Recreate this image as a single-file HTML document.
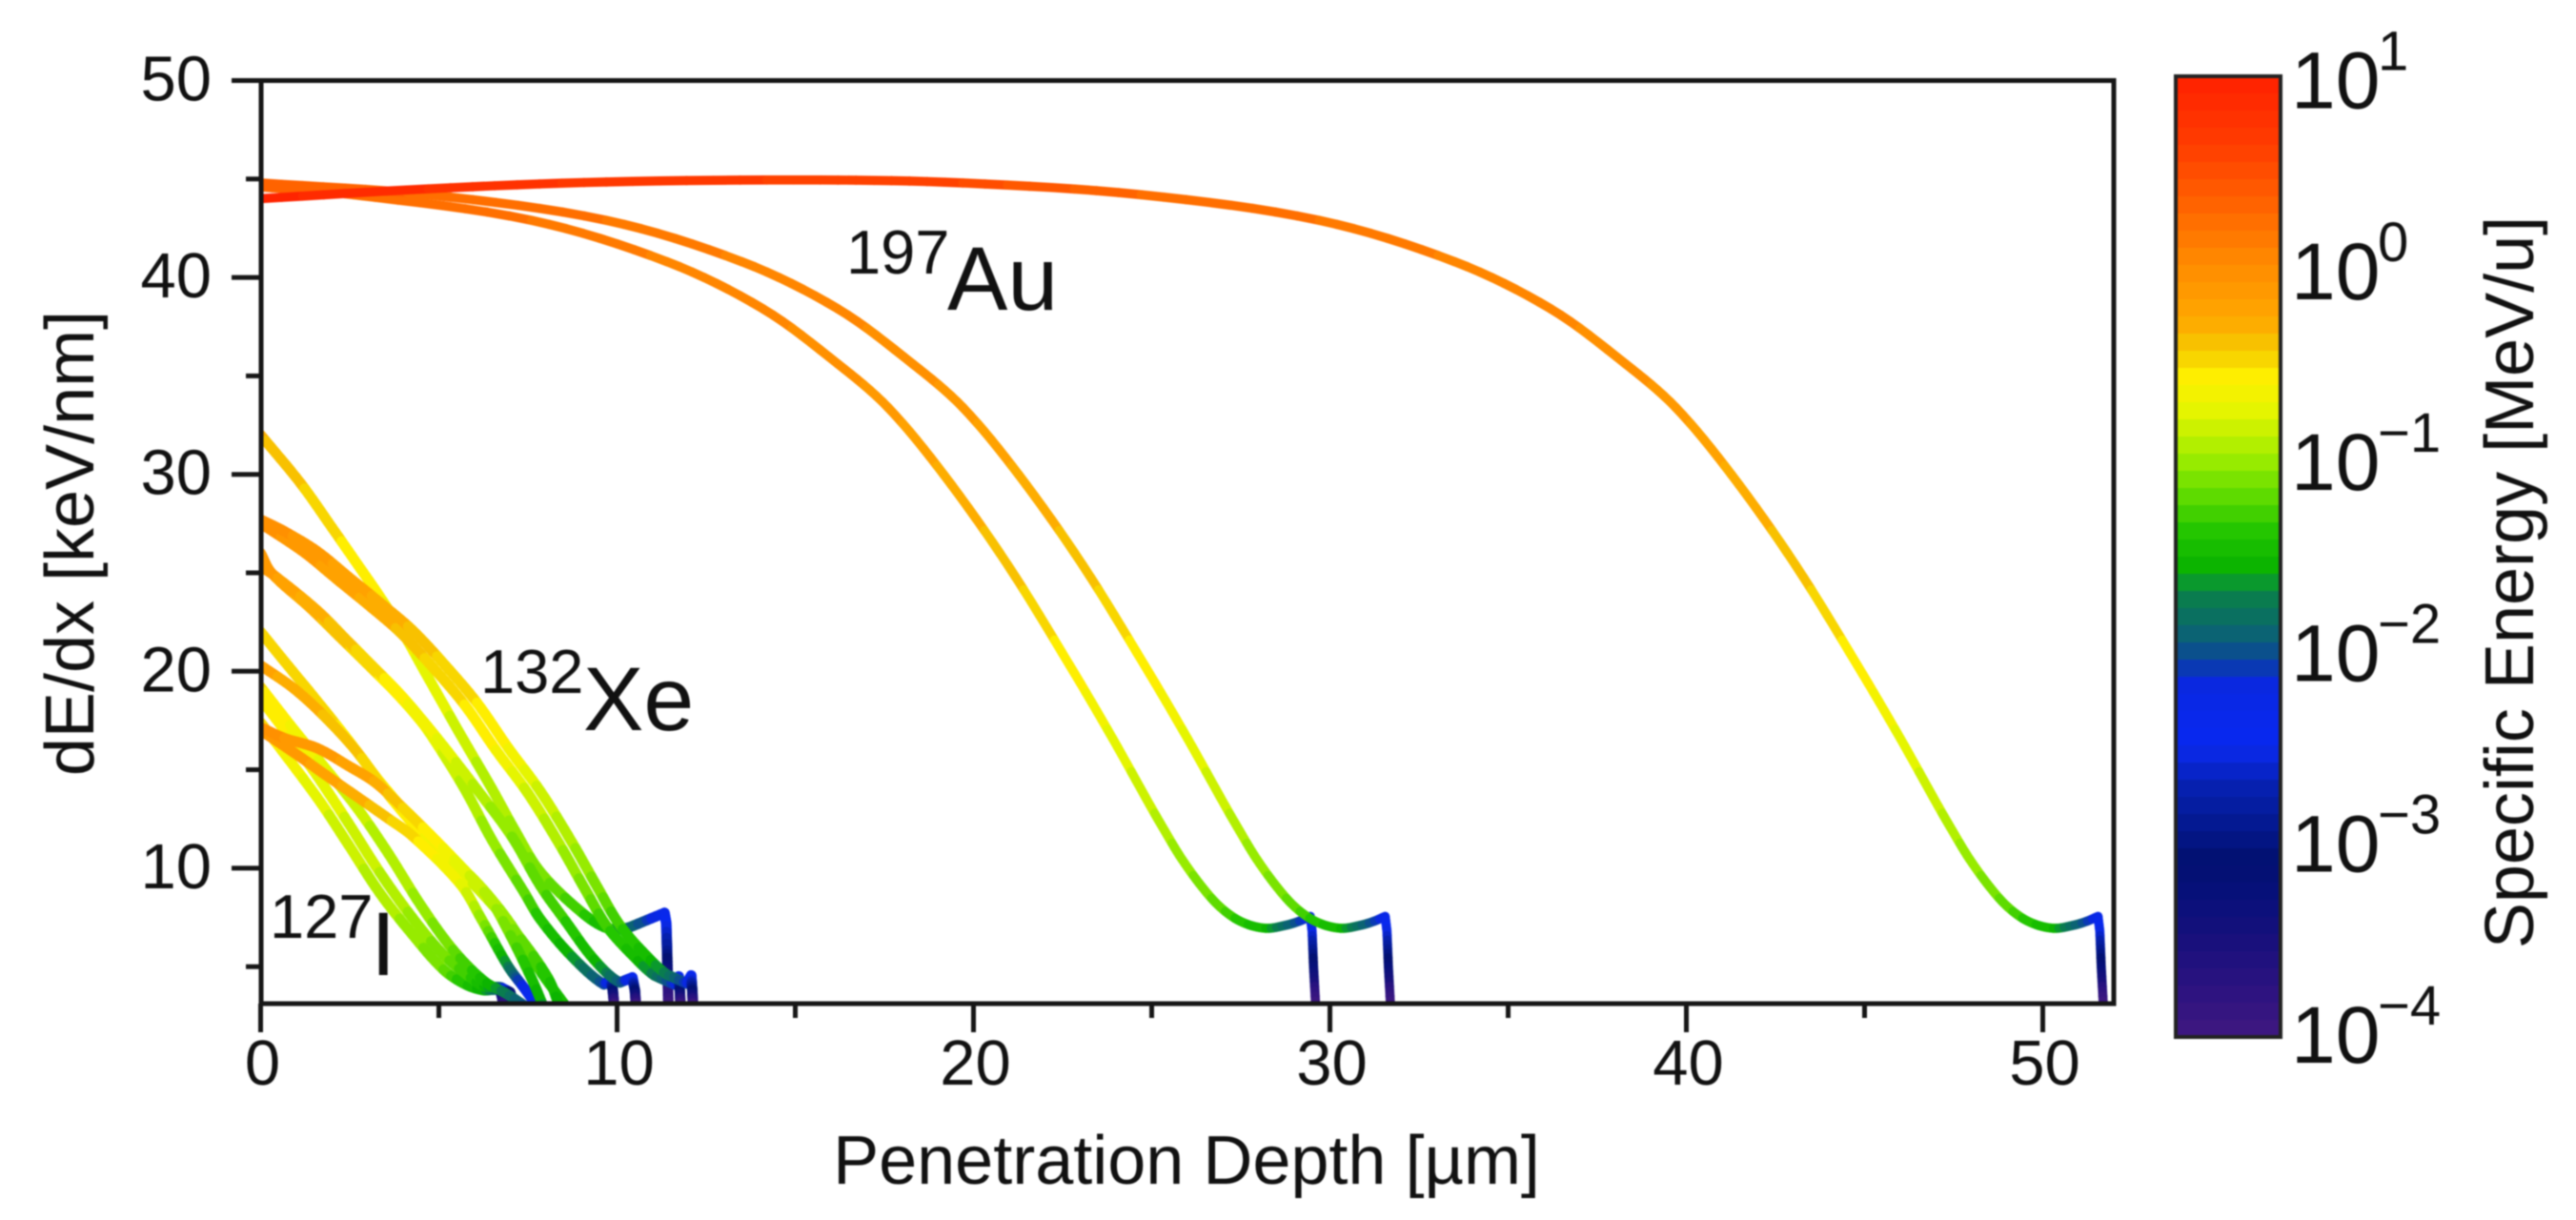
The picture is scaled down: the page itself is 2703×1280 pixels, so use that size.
<!DOCTYPE html>
<html lang="en">
<head>
<meta charset="utf-8">
<title>Stopping power versus penetration depth</title>
<style>
html,body{margin:0;padding:0;background:#fff;width:2703px;height:1280px;overflow:hidden}
svg{display:block;filter:blur(0.8px)}
text{font-family:"Liberation Sans",sans-serif;fill:#111}
</style>
</head>
<body>
<svg id="chart" xmlns="http://www.w3.org/2000/svg" width="2703" height="1280" viewBox="0 0 2703 1280">
  <defs>
    <clipPath id="plot-clip"><rect x="272" y="85" width="1946" height="968"/></clipPath>
  </defs>
  <rect x="0" y="0" width="2703" height="1280" fill="#fff"/>
  <g id="colorbar"></g>
  <g id="series" clip-path="url(#plot-clip)"></g>
  <g id="axes"></g>

  <text x="1245" y="1242" font-size="72" text-anchor="middle">Penetration Depth [µm]</text>
  <text transform="translate(98 570) rotate(-90)" font-size="72" text-anchor="middle">dE/dx [keV/nm]</text>
  <text transform="translate(2658 611) rotate(-90)" font-size="72" text-anchor="middle">Specific Energy [MeV/u]</text>

  <g>
    <text x="888" y="287" font-size="65">197</text>
    <text x="994" y="325" font-size="95">Au</text>
  </g>
  <g>
    <text x="504" y="727" font-size="65">132</text>
    <text x="612" y="766" font-size="95">Xe</text>
  </g>
  <g>
    <text x="283" y="984" font-size="65">127</text>
    <text x="389" y="1023" font-size="95">I</text>
  </g>
</svg>

<script>
// ---------- axis values ----------
const xMajorTicks = [0, 10, 20, 30, 40, 50];
const xMinorTicks = [5, 15, 25, 35, 45];
const yMajorTicks = [10, 20, 30, 40, 50];
const yMinorTicks = [5, 15, 25, 35, 45];
const colorbarExponents = [1, 0, -1, -2, -3, -4];

// ---------- colour scale: log10(MeV/u) to colour ----------
const colorLogValues = [1.0, 0.643, 0.276, 0.033, -0.27, -0.434, -0.572, -0.736, -0.875, -0.98, -1.18, -1.38, -1.545, -1.69, -1.73, -1.86, -1.96, -2.04, -2.17, -2.42, -2.54, -2.7, -2.92, -3.08, -3.25, -3.5, -3.75, -4.0];
const colorValues = ["#ff2000", "#ff3c00", "#ff6a00", "#ff8a00", "#ffa800", "#f5cc00", "#fff000", "#e6f500", "#c0f000", "#a0ee00", "#60dc00", "#20c400", "#0cb400", "#08884a", "#0a7a50", "#0a6a6a", "#0c5a80", "#0a40a0", "#0a28e0", "#0828f0", "#0a28e0", "#0620b0", "#04188c", "#021070", "#06107a", "#18107c", "#2c1280", "#401880"];
const colorbarBandCount = 56;

// ---------- series: depth (um), dE/dx (keV/nm), log10 specific energy ----------
const au1Depth = [0, 4.7, 9.7, 15.7, 19.7, 24.7, 29.7, 33.5, 36.2, 38.3, 39.7, 41.26, 43.06, 44.8, 46, 47.05, 47.4, 47.95, 48.6, 49.1, 49.65, 50.3, 50.9, 51.3, 51.55, 51.6, 51.64, 51.7];
const au1Dedx = [44, 44.5, 44.85, 44.95, 44.8, 44.2, 42.9, 40.8, 38.4, 35.6, 33.4, 30, 25.4, 20.3, 16.6, 13.2, 12.1, 10.45, 8.85, 7.9, 7.25, 6.95, 7.12, 7.35, 7.55, 6.8, 5, 3];
const au1Energy = [0.95, 0.82, 0.7, 0.62, 0.55, 0.27, 0.2, 0.1, 0.05, -0.03, -0.12, -0.27, -0.38, -0.55, -0.72, -0.85, -0.92, -1, -1.1, -1.2, -1.38, -1.5, -1.85, -2.05, -2.25, -2.5, -3.2, -4];

const au2Depth = [0, 4.7, 9.7, 13.5, 16.2, 18.3, 19.7, 21.26, 23.06, 24.8, 26, 27.05, 27.4, 27.95, 28.6, 29.1, 29.65, 30.3, 30.9, 31.3, 31.55, 31.6, 31.64, 31.7];
const au2Dedx = [44.8, 44.2, 42.9, 40.8, 38.4, 35.6, 33.4, 30, 25.4, 20.3, 16.6, 13.2, 12.1, 10.45, 8.85, 7.9, 7.25, 6.95, 7.12, 7.35, 7.55, 6.8, 5, 3];
const au2Energy = [0.35, 0.28, 0.2, 0.1, 0.05, -0.03, -0.12, -0.27, -0.38, -0.55, -0.72, -0.85, -0.92, -1, -1.1, -1.2, -1.38, -1.5, -1.85, -2.05, -2.25, -2.5, -3.2, -4];

const au3Depth = [0, 2.6, 7.6, 11.4, 14.1, 16.2, 17.6, 19.16, 20.96, 22.7, 23.9, 24.95, 25.3, 25.85, 26.5, 27, 27.55, 28.2, 28.8, 29.2, 29.45, 29.5, 29.54, 29.6];
const au3Dedx = [44.6, 44.2, 42.9, 40.8, 38.4, 35.6, 33.4, 30, 25.4, 20.3, 16.6, 13.2, 12.1, 10.45, 8.85, 7.9, 7.25, 6.95, 7.12, 7.35, 7.55, 6.8, 5, 3];
const au3Energy = [0.33, 0.28, 0.2, 0.1, 0.05, -0.03, -0.12, -0.27, -0.38, -0.55, -0.72, -0.85, -0.92, -1, -1.1, -1.2, -1.38, -1.5, -1.85, -2.05, -2.25, -2.5, -3.2, -4];

const xeThinDepth = [0, 1.12, 2.0, 2.73, 3.34, 3.98, 4.6, 5.13, 5.6, 6.5, 7.14, 7.85, 9.0, 9.73, 10.35, 11.33, 11.38, 11.4, 11.42, 11.44];
const xeThinDedx = [32, 29.55, 27.3, 25.4, 23.8, 22.0, 20.0, 18.3, 16.8, 14.0, 11.9, 9.8, 7.77, 6.95, 7.0, 7.73, 7.2, 6, 4.5, 3];
const xeThinEnergy = [-0.33, -0.42, -0.5, -0.55, -0.6, -0.66, -0.72, -0.76, -0.82, -0.92, -0.98, -1.1, -1.3, -1.5, -1.85, -2.25, -2.45, -2.8, -3.4, -4];

const xeThickADepth = [0, 0.67, 1.58, 2.46, 3.34, 4.25, 5.18, 6.07, 6.95, 7.85, 8.74, 9.46, 10.08, 10.8, 11.4, 11.95, 12.08, 12.11, 12.13];
const xeThickADedx = [27.7, 27.1, 26.1, 24.8, 23.5, 22.1, 20.3, 18.4, 16.1, 13.9, 11.3, 9.0, 7.1, 5.6, 4.6, 4.15, 4.55, 3.8, 3];
const xeThickAEnergy = [-0.03, -0.06, -0.12, -0.2, -0.27, -0.35, -0.45, -0.52, -0.6, -0.8, -0.95, -1.1, -1.3, -1.45, -1.7, -2.1, -2.3, -3, -4];

const xeThickBDepth = [0, 0.35, 1.25, 2.12, 3.0, 3.9, 4.83, 5.72, 6.6, 7.5, 8.39, 9.11, 9.73, 10.45, 11.05, 11.6, 11.73, 11.76, 11.78];
const xeThickBDedx = [27.5, 27.1, 26.0, 24.7, 23.4, 22.0, 20.2, 18.3, 16.0, 13.8, 11.2, 8.9, 7.0, 5.55, 4.55, 4.1, 4.5, 3.8, 3];
const xeThickBEnergy = [-0.03, -0.06, -0.12, -0.2, -0.27, -0.35, -0.45, -0.52, -0.6, -0.8, -0.95, -1.1, -1.3, -1.45, -1.7, -2.1, -2.3, -3, -4];

const xeMidADepth = [0, 0.32, 1.58, 2.46, 3.34, 3.88, 4.41, 5.13, 6.07, 7.05, 7.85, 8.56, 9.36, 10.08, 10.43, 10.5, 10.53];
const xeMidADedx = [25.3, 24.95, 23.1, 21.5, 19.9, 18.9, 17.8, 16.2, 14.0, 11.6, 9.1, 7.3, 5.35, 4.2, 4.45, 3.8, 3];
const xeMidAEnergy = [-0.12, -0.15, -0.3, -0.4, -0.5, -0.58, -0.64, -0.72, -0.9, -1.05, -1.2, -1.32, -1.5, -1.9, -2.3, -3, -4];

const xeMidBDepth = [0, 0.3, 1.4, 2.3, 3.2, 3.75, 4.3, 4.73, 5.7, 6.5, 7.4, 7.85, 8.74, 9.63, 9.82, 9.88, 9.92];
const xeMidBDedx = [26, 25, 23.2, 21.6, 20.0, 19.0, 17.9, 16.9, 14.1, 11.4, 8.75, 7.4, 5.5, 4.1, 4.35, 3.8, 3];
const xeMidBEnergy = [-0.1, -0.15, -0.3, -0.4, -0.5, -0.58, -0.64, -0.7, -0.9, -1.0, -1.2, -1.35, -1.6, -2.0, -2.3, -3, -4];

const iTopDepth = [0, 0.67, 1.58, 2.46, 3.34, 4.25, 5.13, 6.0, 6.92, 7.8, 8.6];
const iTopDedx = [22, 20.5, 18.5, 16.5, 14.4, 12.5, 10.8, 9.4, 7.4, 4.9, 2.9];
const iTopEnergy = [-0.45, -0.47, -0.5, -0.53, -0.56, -0.62, -0.7, -0.85, -1.0, -1.3, -1.5];

const iOrangeADepth = [0, 0.95, 1.85, 2.73, 3.6, 4.5, 5.4, 6.28, 7.2, 8.07, 8.4];
const iOrangeADedx = [20.3, 19.1, 17.6, 15.85, 13.7, 11.8, 10.2, 8.6, 6.65, 4.4, 2.9];
const iOrangeAEnergy = [-0.22, -0.28, -0.35, -0.42, -0.5, -0.6, -0.7, -0.85, -1.1, -1.4, -1.55];

const iOrangeBDepth = [0, 0.67, 1.58, 2.46, 3.18, 3.8, 5.3, 6.4, 6.92, 7.6, 7.95];
const iOrangeBDedx = [17.15, 16.6, 16.1, 15.2, 14.4, 13.4, 10.7, 8.5, 6.9, 4.4, 2.9];
const iOrangeBEnergy = [-0.05, -0.07, -0.1, -0.18, -0.25, -0.4, -0.65, -0.9, -1.1, -1.45, -1.6];

const iOrangeCDepth = [0, 0.95, 1.85, 2.73, 3.6, 4.25, 5.6, 6.2, 6.95, 7.4, 7.8];
const iOrangeCDedx = [17.0, 15.85, 14.7, 13.6, 12.5, 11.65, 9.2, 7.4, 5.0, 3.9, 2.9];
const iOrangeCEnergy = [-0.05, -0.12, -0.2, -0.3, -0.42, -0.5, -0.7, -1.0, -1.7, -2.2, -2.6];

const iLowADepth = [0, 0.67, 1.58, 2.46, 3.34, 4.25, 5.13, 5.85, 6.28, 6.74, 7.0, 7.05, 7.08];
const iLowADedx = [18.6, 17.0, 14.7, 12.3, 9.8, 7.5, 5.6, 4.5, 4.0, 3.95, 3.7, 3.4, 2.9];
const iLowAEnergy = [-0.55, -0.6, -0.7, -0.8, -0.87, -0.98, -1.1, -1.3, -1.5, -1.9, -3.0, -3.4, -4];

const iLowBDepth = [0, 0.95, 1.85, 2.73, 3.6, 4.5, 5.4, 6.28, 6.92, 7.5];
const iLowBDedx = [19.2, 17, 15, 13.0, 10.7, 8.1, 5.85, 4.25, 3.6, 2.9];
const iLowBEnergy = [-0.5, -0.62, -0.72, -0.84, -0.92, -0.98, -1.15, -1.45, -1.75, -2.0];

const iLowCDepth = [0, 1.58, 2.46, 3.34, 4.25, 5.13, 5.75, 6.28, 6.65, 6.74, 6.78, 6.82];
const iLowCDedx = [17.4, 13.6, 11.2, 8.75, 6.65, 4.85, 4.1, 3.8, 3.85, 3.7, 3.4, 2.9];
const iLowCEnergy = [-0.5, -0.75, -0.85, -0.9, -1.0, -1.15, -1.4, -1.55, -1.9, -3.0, -3.4, -4];

const seriesTable = [
  ["series-i-low-c", iLowCDepth, iLowCDedx, iLowCEnergy],
  ["series-i-low-a", iLowADepth, iLowADedx, iLowAEnergy],
  ["series-i-low-b", iLowBDepth, iLowBDedx, iLowBEnergy],
  ["series-i-top", iTopDepth, iTopDedx, iTopEnergy],
  ["series-i-orange-a", iOrangeADepth, iOrangeADedx, iOrangeAEnergy],
  ["series-i-orange-c", iOrangeCDepth, iOrangeCDedx, iOrangeCEnergy],
  ["series-i-orange-b", iOrangeBDepth, iOrangeBDedx, iOrangeBEnergy],
  ["series-xe-thin", xeThinDepth, xeThinDedx, xeThinEnergy],
  ["series-xe-mid-b", xeMidBDepth, xeMidBDedx, xeMidBEnergy],
  ["series-xe-mid-a", xeMidADepth, xeMidADedx, xeMidAEnergy],
  ["series-xe-thick-b", xeThickBDepth, xeThickBDedx, xeThickBEnergy],
  ["series-xe-thick-a", xeThickADepth, xeThickADedx, xeThickAEnergy],
  ["series-au-3", au3Depth, au3Dedx, au3Energy],
  ["series-au-2", au2Depth, au2Dedx, au2Energy],
  ["series-au-1", au1Depth, au1Dedx, au1Energy]
];

// ---------- scales ----------
const SVGNS = "http://www.w3.org/2000/svg";
function xScale(v) { return 273.5 + v * 37.4; }
function yScale(v) { return 84.5 + (50 - v) * 20.66; }
function cbScale(v) { return 80 + (1 - v) * 201.6; }
function cbLabelBaseline(v) { return 113.7 + (1 - v) * 200.26; }
function strokeFor(name) { return name.indexOf("series-au") === 0 ? 9.6 : 11; }

function hexToRgb(h) {
  return [parseInt(h.slice(1, 3), 16), parseInt(h.slice(3, 5), 16), parseInt(h.slice(5, 7), 16)];
}
function colorFor(logValue) {
  const bandSize = 5 / colorbarBandCount;
  const snapped = 1 - (Math.floor((1 - logValue) / bandSize) + 0.5) * bandSize;
  const v = Math.max(-4, Math.min(1, snapped));
  for (let i = 0; i < colorLogValues.length - 1; i++) {
    if (v <= colorLogValues[i] && v >= colorLogValues[i + 1]) {
      const t = (colorLogValues[i] - v) / (colorLogValues[i] - colorLogValues[i + 1]);
      const a = hexToRgb(colorValues[i]);
      const b = hexToRgb(colorValues[i + 1]);
      return "rgb(" + a.map((c, k) => Math.round(c + (b[k] - c) * t)).join(",") + ")";
    }
  }
  return colorValues[colorValues.length - 1];
}

function makeLine(parent, x1, y1, x2, y2, stroke, width, cap) {
  const l = document.createElementNS(SVGNS, "line");
  l.setAttribute("x1", x1);
  l.setAttribute("y1", y1);
  l.setAttribute("x2", x2);
  l.setAttribute("y2", y2);
  l.setAttribute("stroke", stroke);
  l.setAttribute("stroke-width", width);
  l.setAttribute("stroke-linecap", cap);
  parent.appendChild(l);
  return l;
}

// ---------- colorbar ----------
const cbGroup = document.getElementById("colorbar");
for (let i = 0; i < colorbarBandCount; i++) {
  const hi = 1 - i * 5 / colorbarBandCount;
  const lo = 1 - (i + 1) * 5 / colorbarBandCount;
  const r = document.createElementNS(SVGNS, "rect");
  
  
  r.setAttribute("x", 2284);
  r.setAttribute("y", cbScale(hi));
  r.setAttribute("width", 108);
  r.setAttribute("height", cbScale(lo) - cbScale(hi) + 0.6);
  r.setAttribute("fill", colorFor((hi + lo) / 2));
  cbGroup.appendChild(r);
}
const cbFrame = document.createElementNS(SVGNS, "rect");


cbFrame.setAttribute("x", 2283);
cbFrame.setAttribute("y", 80);
cbFrame.setAttribute("width", 110);
cbFrame.setAttribute("height", 1008);
cbFrame.setAttribute("fill", "none");
cbFrame.setAttribute("stroke", "#222");
cbFrame.setAttribute("stroke-width", 4);
cbGroup.appendChild(cbFrame);

colorbarExponents.forEach(function (exp) {
  const base = cbLabelBaseline(exp);
  const t = document.createElementNS(SVGNS, "text");
  
  
  t.setAttribute("x", 2404);
  t.setAttribute("y", base);
  t.setAttribute("font-size", 84);
  t.textContent = "10";
  cbGroup.appendChild(t);
  const s = document.createElementNS(SVGNS, "text");
  
  
  s.setAttribute("x", 2495);
  s.setAttribute("y", base - 40);
  s.setAttribute("font-size", 58);
  s.textContent = exp < 0 ? "\u2212" + Math.abs(exp) : String(exp);
  cbGroup.appendChild(s);
});

// ---------- series ----------
function point(depth, dedx, i) { return [xScale(depth[i]), yScale(dedx[i])]; }
function dist(a, b) { return Math.hypot(b[0] - a[0], b[1] - a[1]); }
const seriesGroup = document.getElementById("series");
seriesTable.forEach(function (row) {
  const name = row[0], depth = row[1], dedx = row[2], energy = row[3];
  const g = document.createElementNS(SVGNS, "g");
  
  
  seriesGroup.appendChild(g);
  const n = depth.length;
  const width = strokeFor(name);
  const steep = function (i) { return i >= 0 && i < n - 1 && Math.abs(xScale(depth[i + 1]) - xScale(depth[i])) < 5; };
  for (let i = 0; i < n - 1; i++) {
    const p1 = point(depth, dedx, i);
    const p2 = point(depth, dedx, i + 1);
    const p0 = i > 0 ? point(depth, dedx, i - 1) : p1;
    const p3 = i < n - 2 ? point(depth, dedx, i + 2) : p2;
    const d01 = dist(p0, p1), d12 = dist(p1, p2), d23 = dist(p2, p3);
    const f1 = d12 / Math.max(d01 + d12, 1e-6);
    const f2 = d12 / Math.max(d12 + d23, 1e-6);
    const straight = steep(i) || steep(i - 1) || steep(i + 1);
    const steps = 8;
    let prev = p1;
    for (let s = 1; s <= steps; s++) {
      const t = s / steps;
      let q;
      if (straight) {
        q = [p1[0] + (p2[0] - p1[0]) * t, p1[1] + (p2[1] - p1[1]) * t];
      } else {
        const t2 = t * t, t3 = t2 * t;
        q = [0, 1].map(function (k) {
          const m1 = (p2[k] - p0[k]) * f1;
          const m2 = (p3[k] - p1[k]) * f2;
          return (2 * t3 - 3 * t2 + 1) * p1[k] + (t3 - 2 * t2 + t) * m1 + (-2 * t3 + 3 * t2) * p2[k] + (t3 - t2) * m2;
        });
      }
      const e = energy[i] + (energy[i + 1] - energy[i]) * (t - 0.5 / steps);
      makeLine(g, prev[0], prev[1], q[0], q[1], colorFor(e), width, "round");
      prev = q;
    }
  }
});

// ---------- axes ----------
const axes = document.getElementById("axes");
const axisColor = "#161616";
const bottomY = 1053, topY = 84.5, leftX = 274, rightX = 2218;

const leftLine = makeLine(axes, leftX, topY, leftX, bottomY, axisColor, 5, "square");


const bottomLine = makeLine(axes, leftX, bottomY, rightX, bottomY, axisColor, 5, "square");


const topLine = makeLine(axes, leftX, topY, rightX, topY, axisColor, 5, "square");


const rightLine = makeLine(axes, rightX, topY, rightX, bottomY, axisColor, 5, "square");



xMajorTicks.forEach(function (v) {
  const tick = makeLine(axes, xScale(v), bottomY, xScale(v), 1083, axisColor, 5, "butt");
  
  
  const t = document.createElementNS(SVGNS, "text");
  
  
  t.setAttribute("x", xScale(v) + 2);
  t.setAttribute("y", 1138);
  t.setAttribute("font-size", 67);
  t.setAttribute("text-anchor", "middle");
  t.textContent = String(v);
  axes.appendChild(t);
});
xMinorTicks.forEach(function (v) {
  const tick = makeLine(axes, xScale(v), bottomY, xScale(v), 1068, axisColor, 5, "butt");
  
  
});
yMajorTicks.forEach(function (v) {
  const tick = makeLine(axes, 243, yScale(v), leftX, yScale(v), axisColor, 5, "butt");
  
  
  const t = document.createElementNS(SVGNS, "text");
  
  
  t.setAttribute("x", 222);
  t.setAttribute("y", yScale(v) + 21);
  t.setAttribute("font-size", 67);
  t.setAttribute("text-anchor", "end");
  t.textContent = String(v);
  axes.appendChild(t);
});
yMinorTicks.forEach(function (v) {
  const tick = makeLine(axes, 258, yScale(v), leftX, yScale(v), axisColor, 5, "butt");
  
  
});
</script>
</body>
</html>
